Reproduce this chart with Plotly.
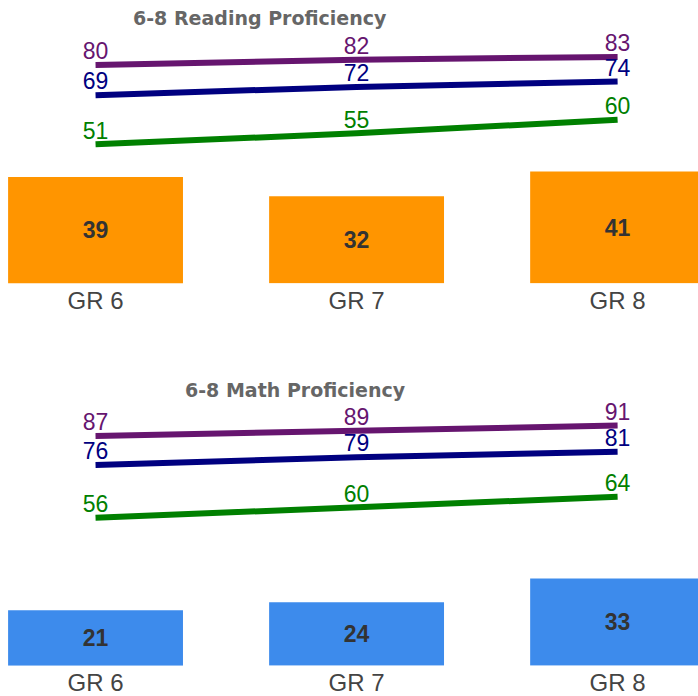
import plotly.graph_objects as go
from plotly.subplots import make_subplots

grades = ["GR 6", "GR 7", "GR 8"]

# Reading panel
reading_title = "6-8 Reading Proficiency"
reading_purple = [80, 82, 83]
reading_navy = [69, 72, 74]
reading_green = [51, 55, 60]
reading_bars = [39, 32, 41]

# Math panel
math_title = "6-8 Math Proficiency"
math_purple = [87, 89, 91]
math_navy = [76, 79, 81]
math_green = [56, 60, 64]
math_bars = [21, 24, 33]

W, H = 698, 696
PURPLE = "#66156f"
NAVY = "#000080"
GREEN = "#008000"
ORANGE = "#FF9500"
BLUE = "#3D8BEC"
FONT = "Liberation Sans, Arial, sans-serif"

fig = make_subplots(rows=2, cols=1)


def add_panel(row, bars, bar_color, lines):
    fig.add_trace(go.Bar(
        x=grades, y=bars, marker=dict(color=bar_color, line=dict(width=0)),
        width=0.67, text=[str(v) for v in bars], textposition="inside",
        insidetextanchor="middle", textangle=0,
        textfont=dict(family=FONT, size=23, color="#333333", weight="bold"),
        showlegend=False, hoverinfo="skip"), row=row, col=1)
    for vals, col in lines:
        fig.add_trace(go.Scatter(
            x=grades, y=vals, mode="lines+text", line=dict(color=col, width=6),
            text=[str(v) for v in vals], textposition="top center",
            textfont=dict(family=FONT, size=23, color=col),
            cliponaxis=False, showlegend=False, hoverinfo="skip"), row=row, col=1)


add_panel(1, reading_bars, ORANGE,
          [(reading_purple, PURPLE), (reading_navy, NAVY), (reading_green, GREEN)])
add_panel(2, math_bars, BLUE,
          [(math_purple, PURPLE), (math_navy, NAVY), (math_green, GREEN)])


def py(px):
    return 1 - px / H


xcommon = dict(type="category", range=[-0.366, 2.308], showgrid=False,
               zeroline=False, showline=False, ticks="",
               tickfont=dict(family=FONT, size=24, color="#444444"),
               automargin=False, fixedrange=True)
ycommon = dict(range=[0, 100], showgrid=False, zeroline=False, showline=False,
               showticklabels=False, ticks="", automargin=False, fixedrange=True)

fig.update_layout(
    width=W, height=H,
    margin=dict(l=0, r=0, t=0, b=0),
    paper_bgcolor="white", plot_bgcolor="white",
    xaxis=dict(domain=[0, 1], **xcommon),
    xaxis2=dict(domain=[0, 1], **xcommon),
    yaxis=dict(domain=[py(283.5), py(10.5)], **ycommon),
    yaxis2=dict(domain=[py(665.7), py(401.7)], **ycommon),
    bargap=0.33,
)

title_font = dict(family="DejaVu Sans", size=19, color="#666666", weight="bold")
fig.add_annotation(text=reading_title, x=260 / W, y=py(18), xref="paper", yref="paper",
                   showarrow=False, font=title_font, xanchor="center", yanchor="middle")
fig.add_annotation(text=math_title, x=295 / W, y=py(390), xref="paper", yref="paper",
                   showarrow=False, font=title_font, xanchor="center", yanchor="middle")

fig.write_html(
    "out.html",
    config={"displayModeBar": False},
    post_script="document.body.style.margin='0';document.body.style.overflow='hidden';",
)
